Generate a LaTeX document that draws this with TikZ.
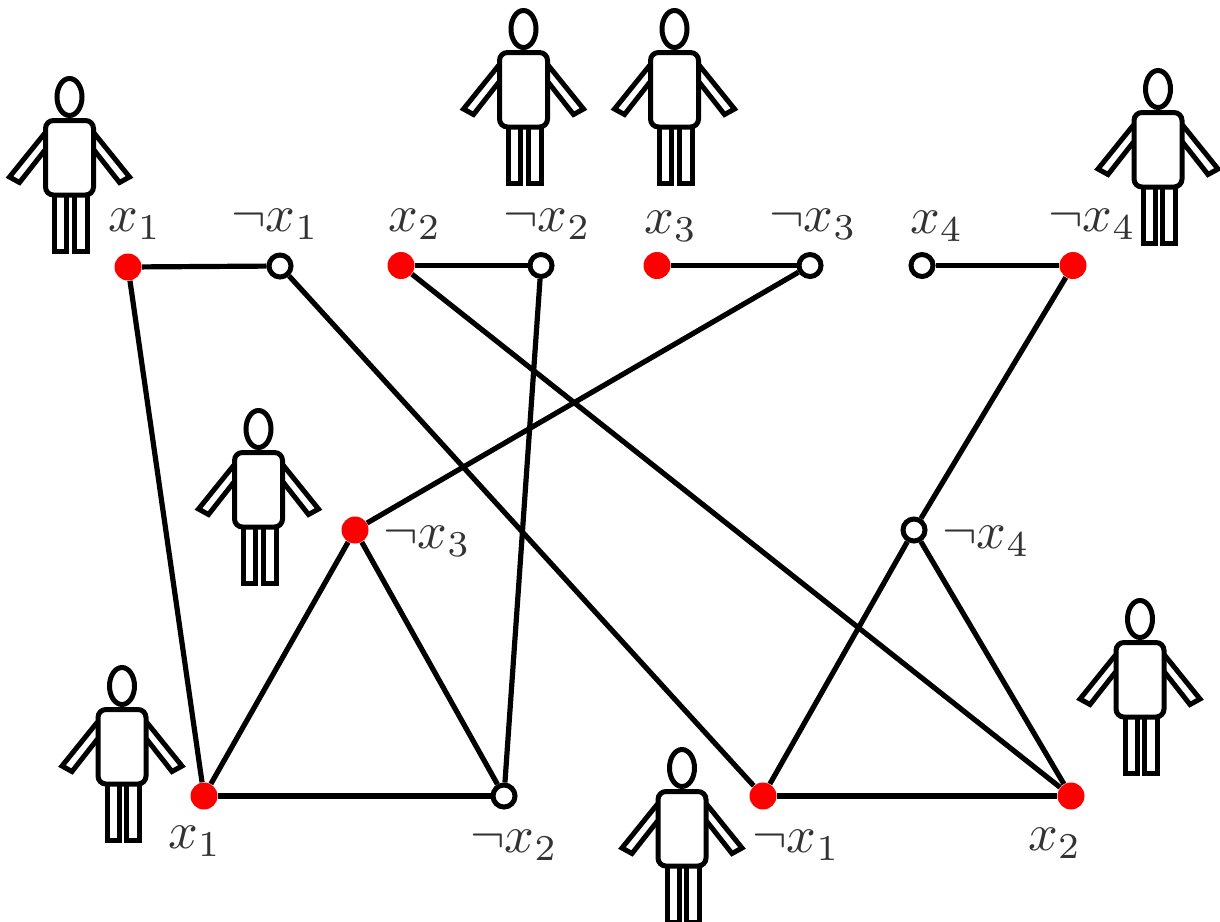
\documentclass[tikz,border=0pt]{standalone}
\usepackage{amsmath}
\usepackage{amssymb}
\usetikzlibrary{shapes,arrows,calc}
\definecolor{labelgray}{HTML}{333333}
\tikzset{
  person/.pic={
    \draw[white limb] (-15,-37) rectangle (-3,93);
    \draw[white limb] (4.5,-37) rectangle (17.5,93);
    \draw[white limb] (-24.5,-25) -- (-60,19) -- (-50,24.5) -- (-24.5,-8);
    \draw[white limb] (24.5,-25) -- (60,19) -- (50,24.5) -- (24.5,-8);
    \draw[white limb, rounded corners=4pt] (-24,-37.5) rectangle (24,37);
    \draw[white limb] (0,-61) ellipse [x radius=12.5, y radius=18.5];
  },
  white limb/.style={draw=black, fill=white, line width=2.5pt},
  chosen/.style={circle, fill=red, inner sep=0pt, minimum size=13.5pt},
  free/.style={circle, draw=black, fill=white, line width=2.5pt, inner sep=0pt, minimum size=11pt},
  lit/.style={text=labelgray, scale=2.6, inner sep=0pt},
  edge/.style={draw=black, line width=2.6pt}
}
\begin{document}
\begin{tikzpicture}[x=0.5pt, y=-0.5pt]
  \useasboundingbox (0,0) rectangle (1220,921);
  %coordinates
  \node[chosen](V1) at (128,267) {};
  \node[free](V2) at (280,266) {};
  \node[chosen](V3) at (401,265.5) {};
  \node[free](V4) at (541,265.5) {};
  \node[chosen](V5) at (657,265.5) {};
  \node[free](V6) at (810,265.5) {};
  \node[free](V7) at (922,265.5) {};
  \node[chosen](V8) at (1073,265.5) {};
  \node[chosen](T1) at (355,530) {};
  \node[chosen](B1) at (204,796) {};
  \node[free](B2) at (504,796) {};
  \node[free](T2) at (914,530) {};
  \node[chosen](B3) at (763,796) {};
  \node[chosen](B4) at (1071,796) {};
  % Labels
  \node[lit](L1) at (135,224) {$x_1$};
  \node[lit](L2) at (275,224) {$\neg x_1$};
  \node[lit](L3) at (415,224) {$x_2$};
  \node[lit](L4) at (547,224) {$\neg x_2$};
  \node[lit](L5) at (671,226) {$x_3$};
  \node[lit](L6) at (813,224) {$\neg x_3$};
  \node[lit](L7) at (937,226) {$x_4$};
  \node[lit](L8) at (1092,224) {$\neg x_4$};
  \node[lit](L9) at (427,541) {$\neg x_3$};
  \node[lit](L10) at (986,541) {$\neg x_4$};
  \node[lit](L11) at (195,841) {$x_1$};
  \node[lit](L12) at (514,845) {$\neg x_2$};
  \node[lit](L13) at (796,845) {$\neg x_1$};
  \node[lit](L14) at (1055,843) {$x_2$};
  % Edges
  \draw[edge](V1)--(V2);
  \draw[edge](V3)--(V4);
  \draw[edge](V5)--(V6);
  \draw[edge](V7)--(V8);
  \draw[edge](T1)--(B1);
  \draw[edge](T1)--(B2);
  \draw[edge](B1)--(B2);
  \draw[edge](T2)--(B3);
  \draw[edge](T2)--(B4);
  \draw[edge](B3)--(B4);
  \draw[edge](V1)--(B1);
  \draw[edge](V2)--(B3);
  \draw[edge](V3)--(B4);
  \draw[edge](V4)--(B2);
  \draw[edge](V6)--(T1);
  \draw[edge](V8)--(T2);
  % People
  \pic at (69.5,158) {person};
  \pic at (523.5,90) {person};
  \pic at (674.5,90) {person};
  \pic at (1158,150) {person};
  \pic at (258.5,490) {person};
  \pic at (122,747) {person};
  \pic at (682,829) {person};
  \pic at (1140,680) {person};
\end{tikzpicture}
\end{document}
